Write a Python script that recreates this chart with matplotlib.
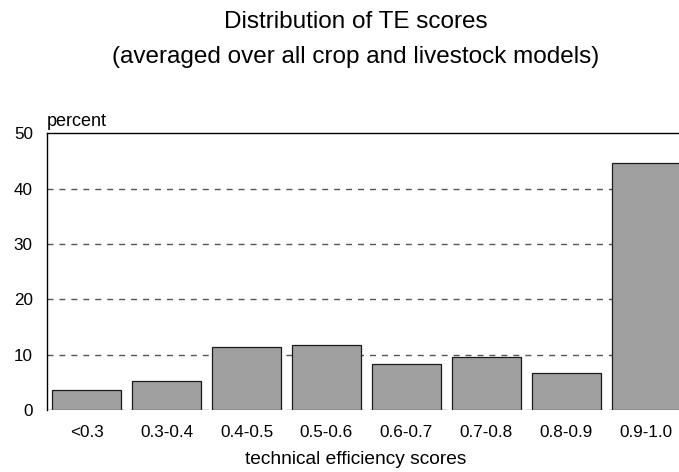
import numpy as np
import matplotlib.pyplot as plt

plt.rcParams['font.family'] = ['Liberation Sans', 'DejaVu Sans']

categories = ['<0.3', '0.3-0.4', '0.4-0.5', '0.5-0.6', '0.6-0.7', '0.7-0.8', '0.8-0.9', '0.9-1.0']
percent = [3.6, 5.3, 11.3, 11.7, 8.3, 9.6, 6.6, 44.6]
yticks = [0, 10, 20, 30, 40, 50]

fig = plt.figure(figsize=(6.79, 4.72), dpi=100)
# the plot area runs a little past the right edge of the picture
ax = fig.add_axes([0.0688, 0.1314, 0.9415, 0.5858])

x = np.arange(len(categories))
ax.bar(x, percent, width=0.864, color='#a0a0a0', edgecolor='#1a1a1a', linewidth=0.9, zorder=3)

ax.set_xlim(-0.5, len(categories) - 0.5)
ax.set_ylim(0, 50)
ax.set_yticks(yticks)
ax.set_xticks(x)
ax.set_xticklabels(categories)
ax.tick_params(axis='both', length=0, labelsize=12.3, colors='black')
ax.tick_params(axis='x', pad=10.5)
ax.tick_params(axis='y', pad=10)

for y in yticks[:-1]:
    ax.axhline(y, color='#555555', linewidth=1.0, dashes=(4.3, 4.3), zorder=1)

for s in ['right', 'bottom']:
    ax.spines[s].set_visible(False)
ax.spines['left'].set_linewidth(1.0)
ax.spines['top'].set_linewidth(1.0)

ax.text(0.0, 1.012, 'percent', transform=ax.transAxes, fontsize=13, ha='left', va='bottom')
fig.text(0.524, 0.016, 'technical efficiency scores', fontsize=13.8, ha='center', va='baseline')

fig.text(0.524, 0.9407, 'Distribution of TE scores', fontsize=17.5, ha='center', va='baseline')
fig.text(0.524, 0.8665, '(averaged over all crop and livestock models)', fontsize=17.5,
         ha='center', va='baseline')

fig.savefig('out.png', dpi=100)
